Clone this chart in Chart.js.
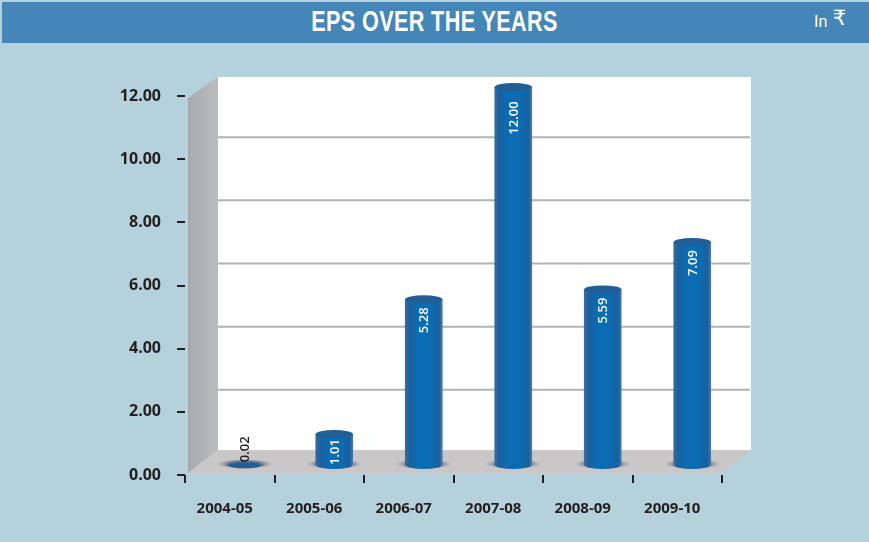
<!DOCTYPE html>
<html>
<head>
<meta charset="utf-8">
<title>EPS over the years</title>
<script src="https://cdn.jsdelivr.net/npm/chart.js@4/dist/chart.umd.min.js"></script>
<style>
  html, body { margin: 0; padding: 0; background: #b5d1dc; }
  #page { position: relative; width: 869px; height: 542px; overflow: hidden; }
  #band { position: absolute; left: 2px; top: 2px; right: 0; height: 41px; background: #4486b8; }
  #heading { position: absolute; left: 0; width: 869px; top: 5px; text-align: center; color: #fff;
    font: bold 29px "Liberation Sans", sans-serif; letter-spacing: 0.5px; transform: scaleX(0.745); }
  #unit { position: absolute; left: 814px; top: 8px; color: #fff; font: 16px "Liberation Sans", sans-serif; }
  #unit span { font: 21px "DejaVu Sans", sans-serif; margin-left: 1px; position: relative; top: -2px; }
  #eps-chart { position: absolute; left: 0; top: 0; }
</style>
</head>
<body>
<div id="page">
  <div id="band"></div>
  <div id="heading">EPS OVER THE YEARS</div>
  <div id="unit">In <span>₹</span></div>
  <canvas id="eps-chart" width="869" height="542"></canvas>
</div>
<script>
var categories = ["2004-05", "2005-06", "2006-07", "2007-08", "2008-09", "2009-10"];
var epsValues = [0.02, 1.01, 5.28, 12.00, 5.59, 7.09];
var valueLabels = ["0.02", "1.01", "5.28", "12.00", "5.59", "7.09"];

var labelFont = '"Open Sans", sans-serif';

// bars stand in the middle of the floor, the wall is at the back of it
var barDx = 15, barDy = -9;
var wallDx = 33, wallDy = -23;

function barGradient(context) {
  var chart = context.chart;
  var x = chart.scales.x.getPixelForTick(context.dataIndex);
  var g = chart.ctx.createLinearGradient(x - 18.5, 0, x + 18.5, 0);
  g.addColorStop(0, "#3a6a9c");
  g.addColorStop(0.12, "#1b619f");
  g.addColorStop(0.35, "#0a6cb4");
  g.addColorStop(0.7, "#0c6bb1");
  g.addColorStop(0.92, "#1a609d");
  g.addColorStop(1, "#4a7aa8");
  return g;
}

var stage = {
  id: "stage",
  beforeDatasetsDraw: function(chart) {
    var ctx = chart.ctx, xs = chart.scales.x, ys = chart.scales.y;
    var l = xs.left + 3, r = xs.right, b = ys.getPixelForValue(0) - 2, t = ys.getPixelForValue(12);
    var wallTop = t - 19;

    // back wall
    ctx.fillStyle = "#ffffff";
    ctx.fillRect(l + wallDx - 3, wallTop, r - l - 1, b + wallDy - wallTop);

    // left wall
    var side = ctx.createLinearGradient(l, 0, l + wallDx, 0);
    side.addColorStop(0, "#a7a9ac");
    side.addColorStop(1, "#bcbec0");
    ctx.fillStyle = side;
    ctx.beginPath();
    ctx.moveTo(l, b);
    ctx.lineTo(l, t + 2);
    ctx.lineTo(l + wallDx - 3, wallTop);
    ctx.lineTo(l + wallDx - 3, b + wallDy);
    ctx.closePath();
    ctx.fill();

    // floor
    ctx.fillStyle = "#c9c7c8";
    ctx.beginPath();
    ctx.moveTo(l, b);
    ctx.lineTo(l + wallDx - 3, b + wallDy);
    ctx.lineTo(r + wallDx - 4, b + wallDy);
    ctx.lineTo(r, b);
    ctx.closePath();
    ctx.fill();

    // grid lines on the wall
    ctx.strokeStyle = "#b4b2b2";
    ctx.lineWidth = 2;
    ys.ticks.forEach(function(tick) {
      if (tick.value === 0 || tick.value === 12) return;
      var y = ys.getPixelForValue(tick.value) + wallDy + 1;
      ctx.beginPath();
      ctx.moveTo(l + wallDx - 3, y);
      ctx.lineTo(r + wallDx - 5, y);
      ctx.stroke();
    });

    ctx.save();
    ctx.translate(barDx, barDy);
    chart.getDatasetMeta(0).data.forEach(function(bar, i) {
      // shadow on the floor
      var base = bar.base;
      ctx.save();
      ctx.translate(bar.x, base - 1);
      ctx.scale(28, 5);
      var shade = ctx.createRadialGradient(0, 0, 0.55, 0, 0, 1);
      shade.addColorStop(0, "rgba(70,90,120,0.8)");
      shade.addColorStop(1, "rgba(120,130,145,0)");
      ctx.fillStyle = shade;
      ctx.beginPath();
      ctx.arc(0, 0, 1, 0, Math.PI * 2);
      ctx.fill();
      ctx.restore();

      // round bottom of the cylinder
      if (epsValues[i] > 0.5) {
        ctx.fillStyle = bar.options.backgroundColor;
        ctx.beginPath();
        ctx.ellipse(bar.x, base, bar.width / 2, 4, 0, 0, Math.PI * 2);
        ctx.fill();
      }
    });
  },
  afterDatasetsDraw: function(chart) {
    var ctx = chart.ctx;
    chart.getDatasetMeta(0).data.forEach(function(bar, i) {
      // top of the cylinder
      var flat = epsValues[i] < 0.5;
      ctx.fillStyle = "#215e96";
      ctx.beginPath();
      ctx.ellipse(bar.x, bar.y, flat ? 16 : bar.width / 2, flat ? 3 : 4, 0, 0, Math.PI * 2);
      ctx.fill();
    });
    ctx.restore();

    // value labels, turned to read upwards
    ctx.font = "600 13px " + labelFont;
    ctx.textAlign = "center";
    ctx.textBaseline = "middle";
    chart.getDatasetMeta(0).data.forEach(function(bar, i) {
      var flat = epsValues[i] < 0.5;
      var gap = flat ? -16 : (epsValues[i] < 2 ? 18 : (epsValues[i] > 10 ? 31 : 21));
      ctx.save();
      ctx.translate(bar.x + barDx + 1, bar.y + barDy + gap);
      ctx.rotate(-Math.PI / 2);
      ctx.fillStyle = flat ? "#231f20" : "#ffffff";
      ctx.fillText(valueLabels[i], 0, 0);
      ctx.restore();
    });
  }
};

new Chart(document.getElementById("eps-chart"), {
  type: "bar",
  data: {
    labels: categories,
    datasets: [{
      data: epsValues,
      backgroundColor: barGradient,
      borderWidth: 0,
      barThickness: 37,
      clip: false
    }]
  },
  plugins: [stage],
  options: {
    responsive: false,
    animation: false,
    layout: { padding: { top: 96, right: 147, left: 0, bottom: 0 } },
    plugins: { legend: { display: false }, tooltip: { enabled: false }, title: { display: false } },
    scales: {
      x: {
        afterFit: function(scale) { scale.height = 67; },
        border: { display: false },
        grid: { drawOnChartArea: false, color: "#231f20", lineWidth: 2, tickLength: 8 },
        ticks: { color: "#231f20", font: { family: labelFont, size: 15, weight: "bold" }, padding: 17, labelOffset: -5, maxRotation: 0 }
      },
      y: {
        min: 0,
        max: 12,
        afterFit: function(scale) { scale.width = 185; },
        border: { display: false },
        grid: { drawOnChartArea: false, color: "#231f20", lineWidth: 2, tickLength: 8 },
        ticks: {
          stepSize: 2,
          color: "#231f20",
          font: { family: labelFont, size: 16, weight: "bold" },
          padding: 16,
          callback: function(v) { return v.toFixed(2); }
        }
      }
    }
  }
});
</script>
</body>
</html>
